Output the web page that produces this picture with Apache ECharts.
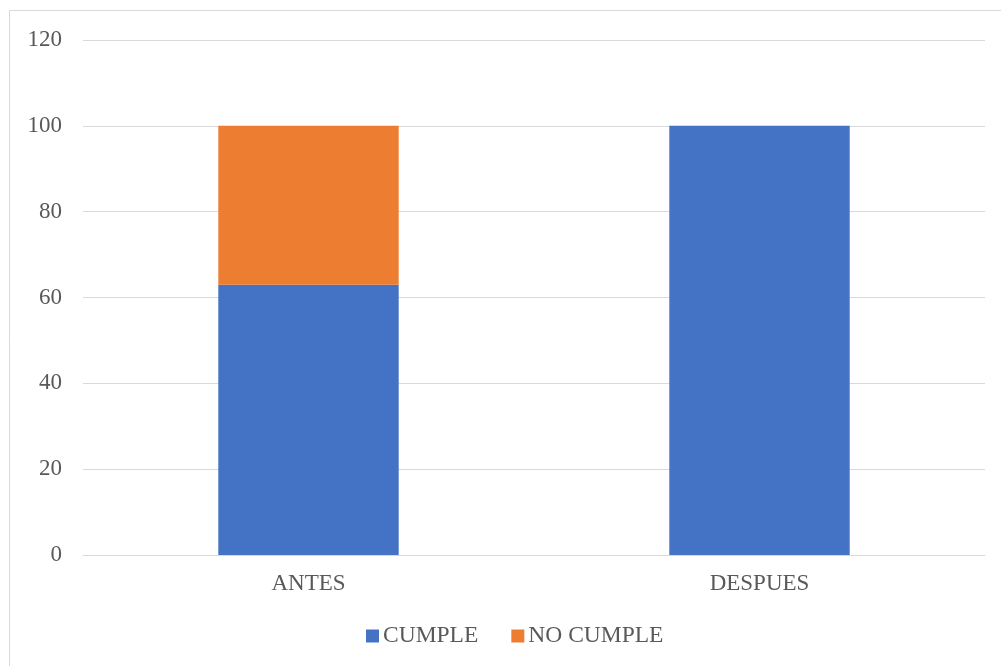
<!DOCTYPE html>
<html>
<head>
<meta charset="utf-8">
<script src="https://cdn.jsdelivr.net/npm/echarts@6/dist/echarts.min.js"></script>
<style>
html,body{margin:0;padding:0;background:#fff;}
#c{width:1001px;height:666px;}
</style>
</head>
<body>
<div id="c"></div>
<script>
const categories = ['ANTES', 'DESPUES'];
const cumple = [63, 100];
const noCumple = [37, 0];
const yTicks = {min: 0, max: 120, interval: 20};

const chart = echarts.init(document.getElementById('c'), null, {renderer: 'canvas'});
const font = '"Liberation Serif", "Times New Roman", serif';
chart.setOption({
  animation: false,
  backgroundColor: '#fff',
  textStyle: {fontFamily: font},
  graphic: [{
    type: 'rect',
    shape: {x: 9.5, y: 10.5, width: 992, height: 660},
    style: {fill: 'none', stroke: '#d9d9d9', lineWidth: 1},
    silent: true
  }],
  grid: {left: 83, right: 16, top: 40, bottom: 111, containLabel: false},
  legend: {
    top: 619,
    left: 361,
    itemWidth: 13,
    itemHeight: 13,
    itemGap: 33,
    icon: 'rect',
    textStyle: {fontFamily: font, fontSize: 23.5, color: '#595959', padding: [0,0,0,-1]},
    data: ['CUMPLE', 'NO CUMPLE']
  },
  xAxis: {
    type: 'category',
    data: categories,
    axisLine: {lineStyle: {color: '#d9d9d9', width: 1}},
    axisTick: {show: false},
    axisLabel: {fontFamily: font, fontSize: 23, color: '#595959', margin: 17}
  },
  yAxis: {
    type: 'value',
    min: yTicks.min, max: yTicks.max, interval: yTicks.interval,
    axisLine: {show: false},
    axisTick: {show: false},
    splitLine: {lineStyle: {color: '#d9d9d9', width: 1}},
    axisLabel: {fontFamily: font, fontSize: 23, color: '#595959', margin: 21}
  },
  series: [
    {name: 'CUMPLE', type: 'bar', stack: 's', data: cumple, barWidth: '40%', itemStyle: {color: '#4472c4'}},
    {name: 'NO CUMPLE', type: 'bar', stack: 's', data: noCumple, barWidth: '40%', itemStyle: {color: '#ed7d31'}}
  ]
});
</script>
</body>
</html>
